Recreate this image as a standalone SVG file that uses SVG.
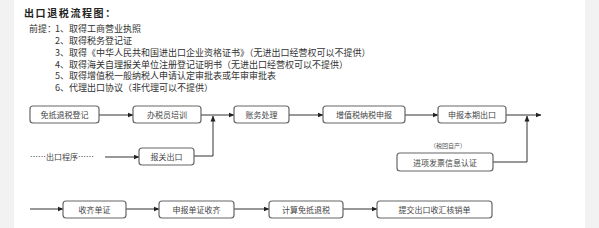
<svg xmlns="http://www.w3.org/2000/svg" width="599" height="228" viewBox="0 0 599 228">
<defs>
<marker id="ah" viewBox="0 0 6 6" refX="5.5" refY="3" markerWidth="6" markerHeight="6" orient="auto" markerUnits="userSpaceOnUse">
<path d="M0,0.5 L6,3 L0,5.5 Z" fill="#222"/>
</marker>
</defs>
<style>
text{font-family:"Noto Sans CJK SC","Noto Sans",sans-serif;fill:#333}
.t{font-size:10px;font-weight:bold;letter-spacing:1.6px;fill:#222}
.p{font-size:9px}
.b rect{fill:#fff;stroke:#666;stroke-width:1.2}
.b text{font-size:8px;text-anchor:middle;dominant-baseline:central;fill:#444}
.c line,.c polyline{stroke:#333;stroke-width:1;fill:none}
</style>
<rect x="0" y="0" width="599" height="228" fill="#fff"/>
<rect x="0" y="0" width="14" height="228" fill="#f2f2f2"/>
<rect x="585" y="0" width="14" height="228" fill="#f2f2f2"/>
<text class="t" x="24" y="17">出口退税流程图：</text>
<g id="premise">
<text class="p" x="29" y="32">前提：</text>
<text class="p" x="55" y="32">1、取得工商营业执照</text>
<text class="p" x="55" y="44">2、取得税务登记证</text>
<text class="p" x="55" y="56">3、取得《中华人民共和国进出口企业资格证书》（无进出口经营权可以不提供）</text>
<text class="p" x="55" y="67.5">4、取得海关自理报关单位注册登记证明书（无进出口经营权可以不提供）</text>
<text class="p" x="55" y="79">5、取得增值税一般纳税人申请认定审批表或年审审批表</text>
<text class="p" x="55" y="91">6、代理出口协议（非代理可以不提供）</text>
</g>
<g class="c" id="connectors">
<line x1="99" y1="115" x2="133" y2="115" marker-end="url(#ah)"/>
<line x1="201" y1="115" x2="234" y2="115" marker-end="url(#ah)"/>
<polyline points="194,156 213,156 213,116" marker-end="url(#ah)"/>
<line x1="289" y1="115" x2="323" y2="115" marker-end="url(#ah)"/>
<line x1="405" y1="115" x2="438" y2="115" marker-end="url(#ah)"/>
<line x1="506" y1="115" x2="541" y2="115" marker-end="url(#ah)"/>
<polyline points="493,162 527,162 527,116" marker-end="url(#ah)"/>
<line x1="105" y1="157" x2="139" y2="157" marker-end="url(#ah)"/>
<line x1="30" y1="209" x2="63" y2="209" marker-end="url(#ah)"/>
<line x1="126" y1="209" x2="159" y2="209" marker-end="url(#ah)"/>
<line x1="234" y1="209" x2="269" y2="209" marker-end="url(#ah)"/>
<line x1="343" y1="209" x2="377" y2="209" marker-end="url(#ah)"/>
</g>
<g id="n1" class="b"><rect x="30" y="106" width="69" height="17" rx="3"/><text x="64.5" y="114.5">免抵退税登记</text></g>
<g id="n2" class="b"><rect x="133" y="106" width="68" height="17" rx="3"/><text x="167" y="114.5">办税员培训</text></g>
<g id="n3" class="b"><rect x="234" y="106" width="55" height="17" rx="3"/><text x="261.5" y="114.5">账务处理</text></g>
<g id="n4" class="b"><rect x="323" y="106" width="82" height="17" rx="3"/><text x="364" y="114.5">增值税纳税申报</text></g>
<g id="n5" class="b"><rect x="438" y="106" width="68" height="17" rx="3"/><text x="472" y="114.5">申报本期出口</text></g>
<g id="n6" class="b"><rect x="139" y="148" width="55" height="17" rx="3"/><text x="166.5" y="156.5">报关出口</text></g>
<g id="n7" class="b"><rect x="397" y="153" width="96" height="18" rx="3"/><text x="445" y="162">进项发票信息认证</text></g>
<text x="448" y="148" style="font-size:6px;text-anchor:middle;fill:#555">（税回自产）</text>
<text x="30" y="160" style="font-size:8px;fill:#444">……出口程序……</text>
<g id="n8" class="b"><rect x="63" y="201" width="63" height="17" rx="3"/><text x="94.5" y="209.5">收齐单证</text></g>
<g id="n9" class="b"><rect x="159" y="201" width="75" height="17" rx="3"/><text x="196.5" y="209.5">申报单证收齐</text></g>
<g id="n10" class="b"><rect x="269" y="201" width="74" height="17" rx="3"/><text x="306" y="209.5">计算免抵退税</text></g>
<g id="n11" class="b"><rect x="377" y="201" width="115" height="17" rx="3"/><text x="434.5" y="209.5">提交出口收汇核销单</text></g>
</svg>
